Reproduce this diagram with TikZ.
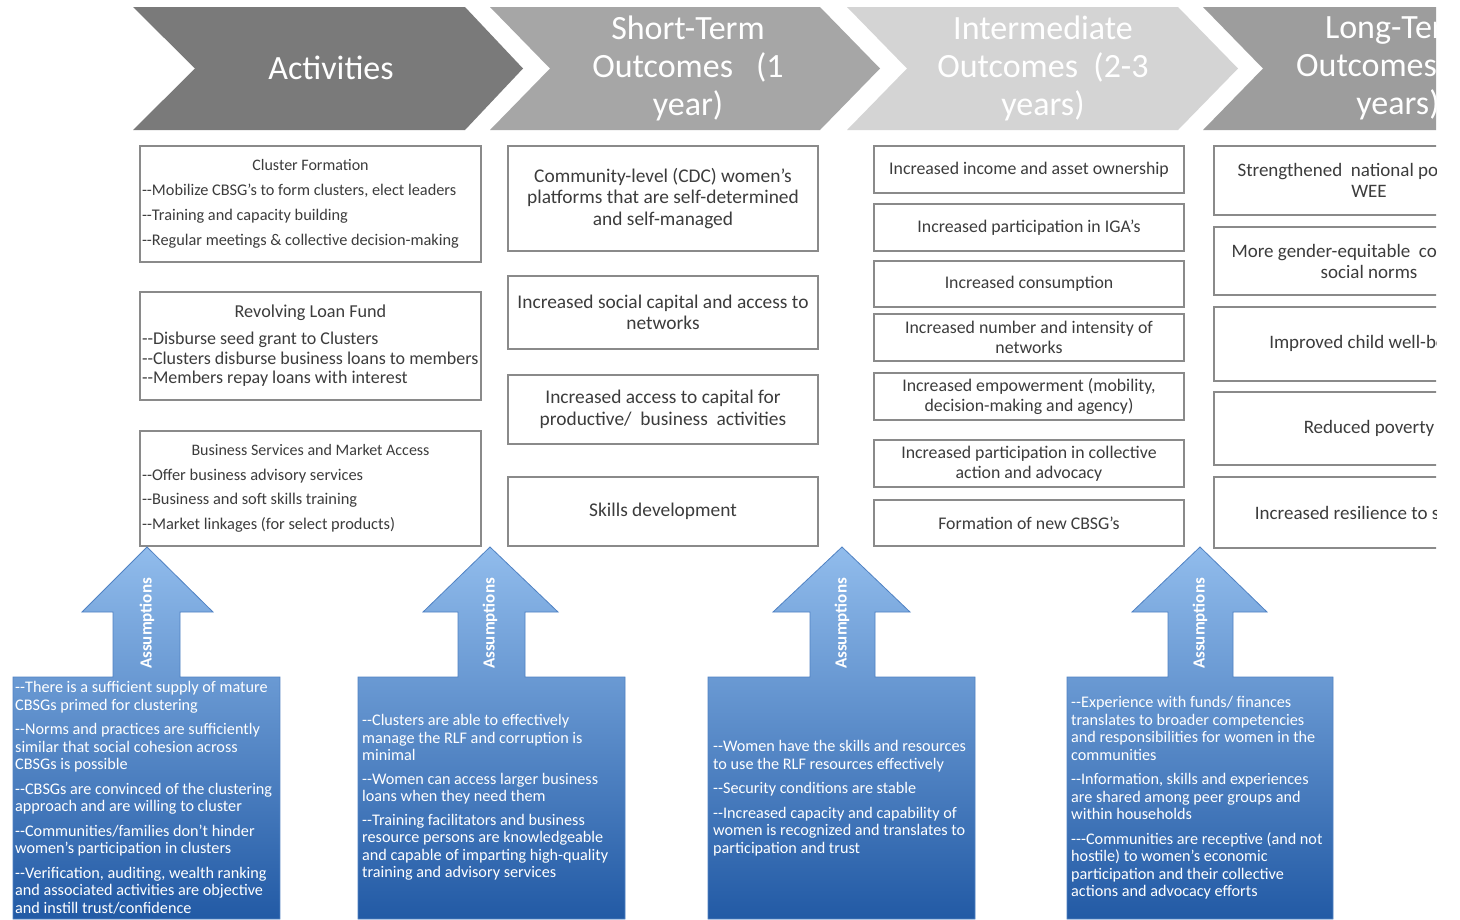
\documentclass[tikz,border=0pt]{standalone}
\usepackage{fontspec}
\setmainfont{Carlito}
\definecolor{chevA}{HTML}{7A7A7A}
\definecolor{chevB}{HTML}{A6A6A6}
\definecolor{chevC}{HTML}{D4D4D4}
\definecolor{chevD}{HTML}{9D9D9D}
\definecolor{boxgray}{HTML}{8A8A8A}
\definecolor{txtgray}{HTML}{3C3C3C}
\definecolor{arrtop}{RGB}{145,188,236}
\definecolor{arrbot}{RGB}{34,90,165}
\definecolor{arredge}{RGB}{80,130,195}
\begin{document}
\begin{tikzpicture}[x=1pt,y=-1pt,
  box/.style={draw=boxgray, line width=1.4pt, rectangle, inner xsep=3pt, inner ysep=0pt, text=txtgray, align=center},
  leftbox/.style={box, align=left, inner xsep=2pt, minimum width=341, text width=337},
  chevtext/.style={text=white, align=center, inner sep=0pt, font=\fontsize{34}{38}\selectfont},
  assume/.style={text=white, inner sep=0pt, font=\bfseries\fontsize{17}{18}\selectfont, rotate=90},
  asstext/.style={text=white, align=left, anchor=north west, inner sep=0pt, font=\fontsize{16.2}{17.5}\selectfont},
  arrowshape/.style={top color=arrtop, bottom color=arrbot, draw=arredge, line width=0.8pt},
  cA/.style={font=\fontsize{19.4}{21.5}\selectfont},
  cB/.style={font=\fontsize{17.8}{20}\selectfont},
  cC/.style={font=\fontsize{19}{21}\selectfont}
]
\useasboundingbox (0,0) rectangle (1460,919);
\fill[white] (0,0) rectangle (1460,919);
\begin{scope}
\clip (0,0) rectangle (1436,919);
% chevrons
\fill[chevA] (133,7) -- (465,7) -- (523,68.5) -- (465,130) -- (133,130) -- (195,68.5) -- cycle;
\fill[chevB] (490,7) -- (820,7) -- (880,68.5) -- (820,130) -- (490,130) -- (550,68.5) -- cycle;
\fill[chevC] (847,7) -- (1178,7) -- (1238,68.5) -- (1178,130) -- (847,130) -- (907,68.5) -- cycle;
\fill[chevD] (1203,7) -- (1533,7) -- (1593,68.5) -- (1533,130) -- (1203,130) -- (1263,68.5) -- cycle;
\node[chevtext] (h1) at (331,68) {Activities};
\node[chevtext] (h2) at (688,68) {Short-Term\\Outcomes\ \ \ (1\\year)};
\node[chevtext] (h3) at (1043,68) {Intermediate\\Outcomes\ \ (2-3\\years)};
\node[chevtext] (h4) at (1398,68) {Long-Term\\Outcomes (3-5\\years)};

% column 1
\node[leftbox, font=\fontsize{16.3}{25}\selectfont, minimum height=116] (a1) at (310.5,204)
 {\spaceskip=0pt\relax\makebox[\linewidth]{\fontsize{16}{25}\selectfont Cluster Formation}\\
  -{}-Mobilize CBSG’s to form clusters, elect leaders\\
  -{}-Training and capacity building\\
  -{}-Regular meetings \& collective decision-making};
\node[leftbox, font=\fontsize{18}{19.5}\selectfont, minimum height=108] (a2) at (310.5,346)
 {\spaceskip=0pt\relax\makebox[\linewidth]{\fontsize{18.2}{19.5}\selectfont Revolving Loan Fund}\\[7.5pt]
  -{}-Disburse seed grant to Clusters\\
  -{}-Clusters disburse business loans to members\\
  -{}-Members repay loans with interest};
\node[leftbox, font=\fontsize{16.4}{24.5}\selectfont, minimum height=115] (a3) at (310.5,488.5)
 {\spaceskip=0pt\relax\makebox[\linewidth]{\fontsize{16}{24.5}\selectfont Business Services and Market Access}\\
  -{}-Offer business advisory services\\
  -{}-Business and soft skills training\\
  -{}-Market linkages (for select products)};

% column 2
\node[box, cA, minimum width=310, minimum height=105] (s1) at (663,198.5)
 {Community-level (CDC) women’s\\platforms that are self-determined\\and self-managed};
\node[box, cA, minimum width=310, minimum height=73] (s2) at (663,312.5)
 {Increased social capital and access to\\networks};
\node[box, cA, minimum width=310, minimum height=69] (s3) at (663,409.5)
 {Increased access to capital for\\productive/\ \ business\ \ activities};
\node[box, cA, minimum width=310, minimum height=69] (s4) at (663,511.5)
 {Skills development};

% column 3
\node[box, cB, minimum width=310, minimum height=47] (m1) at (1029,169.5) {Increased income and asset ownership};
\node[box, cB, minimum width=310, minimum height=47] (m2) at (1029,227.5) {Increased participation in IGA’s};
\node[box, cB, minimum width=310, minimum height=46] (m3) at (1029,284) {Increased consumption};
\node[box, cB, minimum width=310, minimum height=47] (m4) at (1029,337.5) {Increased number and intensity of\\networks};
\node[box, cB, minimum width=310, minimum height=47] (m5) at (1029,396.5) {Increased empowerment (mobility,\\decision-making and agency)};
\node[box, cB, minimum width=310, minimum height=47] (m6) at (1029,463.5) {Increased participation in collective\\action and advocacy};
\node[box, cB, minimum width=310, minimum height=46] (m7) at (1029,523) {Formation of new CBSG’s};

% column 4
\node[box, cC, minimum width=310, minimum height=69] (l1) at (1369,180.5) {Strengthened\ \ national policies on\\WEE};
\node[box, cC, minimum width=310, minimum height=68] (l2) at (1369,261) {More gender-equitable\ \ community\\social norms};
\node[box, cC, minimum width=310, minimum height=74] (l3) at (1369,344) {Improved child well-being};
\node[box, cC, minimum width=310, minimum height=73] (l4) at (1369,428.5) {Reduced poverty};
\node[box, cC, minimum width=310, minimum height=71] (l5) at (1369,512.5) {Increased resilience to shocks};

% assumption arrows
\shade[arrowshape] (13,919) -- (13,677) -- (113,677) -- (113,612) -- (82,612) -- (147,547) -- (213,612) -- (180,612) -- (180,677) -- (280,677) -- (280,919) -- cycle;
\shade[arrowshape] (358,919) -- (358,677) -- (458,677) -- (458,612) -- (423,612) -- (490,547) -- (558,612) -- (525,612) -- (525,677) -- (625,677) -- (625,919) -- cycle;
\shade[arrowshape] (708,919) -- (708,677) -- (810,677) -- (810,612) -- (773,612) -- (842,547) -- (910,612) -- (875,612) -- (875,677) -- (975,677) -- (975,919) -- cycle;
\shade[arrowshape] (1067,919) -- (1067,677) -- (1168,677) -- (1168,612) -- (1132,612) -- (1200,547) -- (1267,612) -- (1233,612) -- (1233,677) -- (1333,677) -- (1333,919) -- cycle;

\node[assume] (q1) at (147,623.5) {Assumptions};
\node[assume] (q2) at (490,623.5) {Assumptions};
\node[assume] (q3) at (842,623.5) {Assumptions};
\node[assume] (q4) at (1200,623.5) {Assumptions};

\node[asstext] (t1) at (15,681.5)
 {\spaceskip=0pt\relax -{}-There is a sufficient supply of mature\\CBSGs primed for clustering\\[7pt]
  -{}-Norms and practices are sufficiently\\similar that social cohesion across\\CBSGs is possible\\[7pt]
  -{}-CBSGs are convinced of the clustering\\approach and are willing to cluster\\[7pt]
  -{}-Communities/families don’t hinder\\women’s participation in clusters\\[7pt]
  -{}-Verification, auditing, wealth ranking\\and associated activities are objective\\and instill trust/confidence};
\node[asstext] (t2) at (362,714.5)
 {\spaceskip=0pt\relax -{}-Clusters are able to effectively\\manage the RLF and corruption is\\minimal\\[6pt]
  -{}-Women can access larger business\\loans when they need them\\[6pt]
  -{}-Training facilitators and business\\resource persons are knowledgeable\\and capable of imparting high-quality\\training and advisory services};
\node[asstext] (t3) at (713,740.5)
 {\spaceskip=0pt\relax -{}-Women have the skills and resources\\to use the RLF resources effectively\\[7pt]
  -{}-Security conditions are stable\\[7pt]
  -{}-Increased capacity and capability of\\women is recognized and translates to\\participation and trust};
\node[asstext] (t4) at (1071,696.5)
 {\spaceskip=0pt\relax -{}-Experience with funds/ finances\\translates to broader competencies\\and responsibilities for women in the\\communities\\[7pt]
  -{}-Information, skills and experiences\\are shared among peer groups and\\within households\\[7pt]
  -{}-{}-Communities are receptive (and not\\hostile) to women’s economic\\participation and their collective\\actions and advocacy efforts};
\end{scope}
\end{tikzpicture}
\end{document}
